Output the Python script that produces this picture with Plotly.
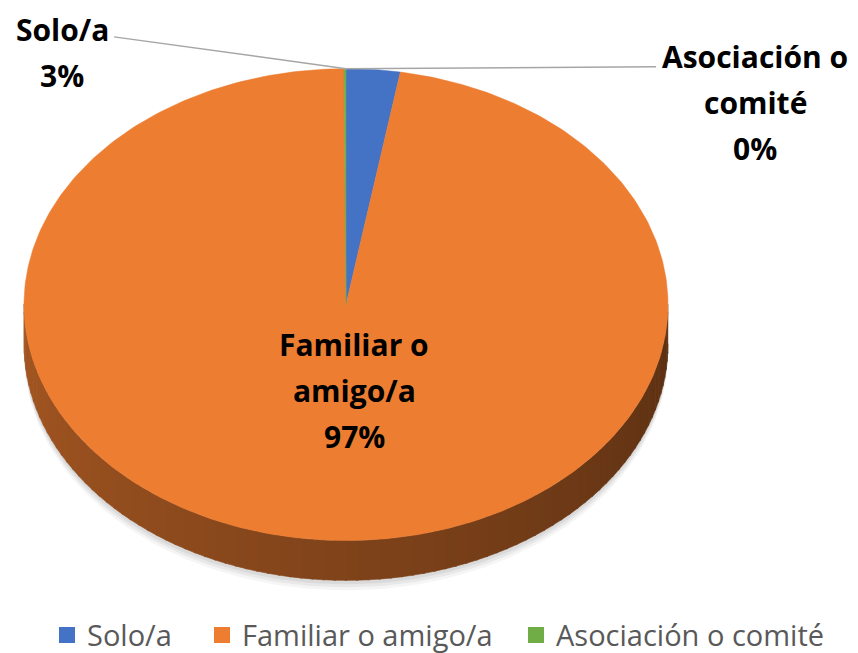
import numpy as np
import plotly.graph_objects as go

# ---- data ----
categories = ["Solo/a", "Familiar o amigo/a", "Asociación o comité"]
values = [2.7, 97.2, 0.1]
colors = ["#4472C4", "#ED7D31", "#70AD47"]
label_lines = [["Solo/a"], ["Familiar o", "amigo/a"], ["Asociación o", "comité"]]

# ---- layout geometry (page pixels) ----
W, H = 858, 653
PAD = 8  # page body margin
FW, FH = W - PAD, H
cx, cy, rx, ry, depth = 346, 306, 322, 237, 40

def pt(theta, dy=0.0):
    return cx + rx * np.sin(theta), cy - ry * np.cos(theta) + dy

def hex_rgb(h):
    h = h.lstrip("#")
    return tuple(int(h[i:i + 2], 16) for i in (0, 2, 4))

def px_x(p):
    return (p - PAD) / FW

def px_y(p):
    return 1 - (p - PAD) / FH

total = float(sum(values))
fracs = [v / total for v in values]
starts = np.concatenate([[0.0], np.cumsum(fracs)[:-1]]) * 2 * np.pi
ends = np.cumsum(fracs) * 2 * np.pi

fig = go.Figure()

# soft shadow under the pie
for off, alpha in [(10, 0.04), (7, 0.05), (4, 0.06)]:
    th = np.linspace(np.pi / 2, 3 * np.pi / 2, 120)
    xs, ys = pt(th, depth + off)
    xt, yt = pt(th[::-1], 0)
    fig.add_trace(go.Scatter(x=np.concatenate([xs, xt]), y=np.concatenate([ys, yt]),
                             fill="toself", fillcolor=f"rgba(0,0,0,{alpha})",
                             line=dict(width=0), mode="lines", hoverinfo="skip",
                             showlegend=False))

# side rim (front half), shaded per slice
n_strips = 90
edges = np.linspace(np.pi / 2, 3 * np.pi / 2, n_strips + 1)
for a, b in zip(edges[:-1], edges[1:]):
    m = 0.5 * (a + b)
    idx = int(np.searchsorted(ends, m % (2 * np.pi)))
    idx = min(idx, len(values) - 1)
    base = hex_rgb(colors[idx])
    t = (m - np.pi / 2) / np.pi  # 0 at right, 1 at left
    k = 0.38 + 0.32 * t
    col = "rgb(%d,%d,%d)" % tuple(int(c * k) for c in base)
    th = np.linspace(a - 0.003, b + 0.003, 4)
    x1, y1 = pt(th, 0)
    x2, y2 = pt(th[::-1], depth)
    fig.add_trace(go.Scatter(x=np.concatenate([x1, x2]), y=np.concatenate([y1, y2]),
                             fill="toself", fillcolor=col, line=dict(width=0.6, color=col),
                             mode="lines", hoverinfo="skip", showlegend=False))

# top faces
for i, (s, e) in enumerate(zip(starts, ends)):
    th = np.linspace(s, e, max(3, int(400 * (e - s) / (2 * np.pi)) + 3))
    xa, ya = pt(th)
    xs = np.concatenate([[cx], xa, [cx]])
    ys = np.concatenate([[cy], ya, [cy]])
    fig.add_trace(go.Scatter(x=xs, y=ys, fill="toself", fillcolor=colors[i],
                             line=dict(width=0.5, color=colors[i]), mode="lines",
                             hoverinfo="skip", showlegend=False))

# legend entries, one legend box each so spacing matches
legend_left = [47, 202, 516]
legend_names = ["legend", "legend2", "legend3"]
leg_font = dict(family="Open Sans", size=29, color="#595959")
legend_layout = {}
for name, c, lg, lx in zip(categories, colors, legend_names, legend_left):
    fig.add_trace(go.Scatter(x=[None], y=[None], mode="markers", name=name, legend=lg,
                             marker=dict(symbol="square", size=16, color=c)))
    legend_layout[lg] = dict(orientation="h", x=px_x(lx), xanchor="left",
                             y=px_y(638), yanchor="middle", font=leg_font,
                             itemclick=False, itemdoubleclick=False,
                             bgcolor="rgba(0,0,0,0)", borderwidth=0)

pcts = ["%d%%" % round(f * 100) for f in fracs]
font_b = dict(family="Open Sans", size=30, color="#000000")

label_pos = [(62, 30), (354, 346), (755, 57)]
line_gap = 46
annotations = []
for i in range(len(categories)):
    lines = label_lines[i] + [pcts[i]]
    x0, y0 = label_pos[i]
    for j, ln in enumerate(lines):
        annotations.append(dict(x=x0, y=y0 + j * line_gap, xref="x", yref="y",
                                text="<b>%s</b>" % ln, showarrow=False,
                                font=font_b, xanchor="center", yanchor="middle"))

# leader lines for outside labels
ends_lbl = {0: (114, 37), 2: (656, 67)}
for i, (lx, ly) in ends_lbl.items():
    ax, ay = pt(starts[i])
    fig.add_trace(go.Scatter(x=[ax, lx], y=[ay, ly], mode="lines",
                             line=dict(color="#A6A6A6", width=1.5),
                             hoverinfo="skip", showlegend=False))

fig.update_layout(
    width=FW, height=FH, autosize=False,
    margin=dict(l=0, r=0, t=0, b=0),
    paper_bgcolor="white", plot_bgcolor="white",
    xaxis=dict(range=[PAD, PAD + FW], visible=False, fixedrange=True),
    yaxis=dict(range=[PAD + FH, PAD], visible=False, fixedrange=True),
    annotations=annotations,
    showlegend=True,
    **legend_layout,
)

fig.write_html("out.html")
